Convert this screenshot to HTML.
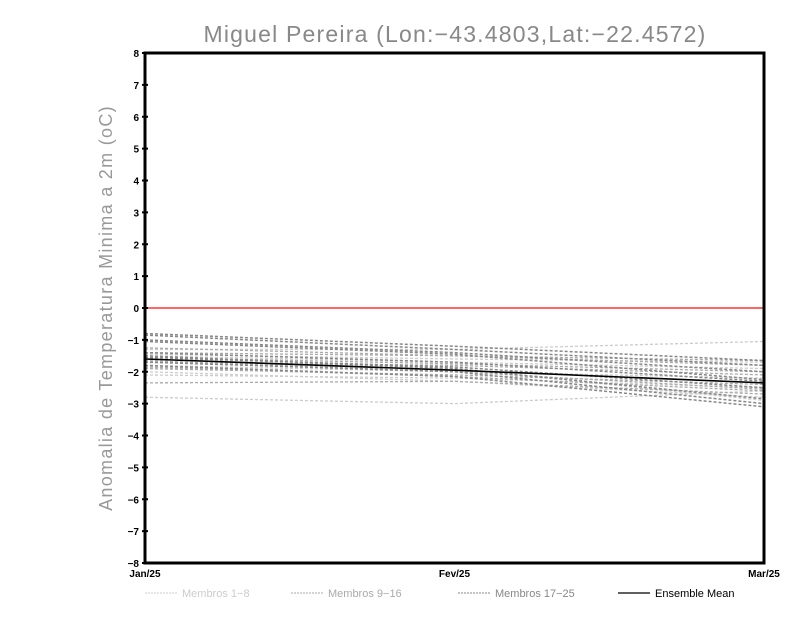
<!DOCTYPE html>
<html><head><meta charset="utf-8"><style>
body{margin:0;background:#fff;width:800px;height:618px;overflow:hidden}
svg{display:block}
text{font-family:"Liberation Sans",sans-serif}
</style></head><body>
<svg id="chart" width="800" height="618">
<text x="455" y="42" text-anchor="middle" font-size="23" letter-spacing="1.2" fill="#888">Miguel Pereira (Lon:−43.4803,Lat:−22.4572)</text>
<text transform="translate(112,308) rotate(-90)" text-anchor="middle" font-size="18" letter-spacing="1.3" fill="#999">Anomalia de Temperatura Minima a 2m (oC)</text>
<g id="series"></g>
<rect x="145" y="53" width="619" height="510" fill="none" stroke="#000" stroke-width="3"/>
<g id="axes"></g>
<g font-size="11">
<line x1="145" y1="593" x2="177" y2="593" stroke="#ccc" stroke-dasharray="2,1"/>
<text x="182" y="597" fill="#ccc">Membros 1−8</text>
<line x1="291" y1="593" x2="323" y2="593" stroke="#aaa" stroke-dasharray="2,1"/>
<text x="328" y="597" fill="#aaa">Membros 9−16</text>
<line x1="458" y1="593" x2="490" y2="593" stroke="#888" stroke-dasharray="2,1"/>
<text x="495" y="597" fill="#888">Membros 17−25</text>
<line x1="618" y1="593" x2="650" y2="593" stroke="#000" stroke-width="1.2"/>
<text x="655" y="597" fill="#000">Ensemble Mean</text>
</g>
</svg>
<script>
const categories=["Jan/25","Fev/25","Mar/25"];
const yTicks=[-8,-7,-6,-5,-4,-3,-2,-1,0,1,2,3,4,5,6,7,8];
const members1to8=[[-1.3,-1.3,-1.05],[-1.5,-1.7,-1.9],[-1.8,-2.0,-2.2],[-2.1,-2.2,-2.5],[-2.8,-3.0,-2.6],[-1.45,-1.6,-1.7],[-1.6,-1.9,-2.9],[-2.0,-2.3,-2.8]];
const members9to16=[[-1.4,-1.5,-1.8],[-1.7,-1.8,-2.1],[-1.9,-2.1,-2.4],[-2.35,-2.3,-2.7],[-1.55,-1.75,-2.0],[-1.65,-2.0,-2.55],[-1.25,-1.5,-1.65],[-1.85,-2.15,-2.6]];
const members17to25=[[-0.8,-1.2,-1.65],[-0.85,-1.3,-1.8],[-1.0,-1.4,-2.0],[-1.05,-1.45,-2.25],[-1.4,-1.7,-2.3],[-1.5,-1.9,-2.85],[-1.7,-2.0,-3.0],[-1.8,-2.15,-3.1],[-1.55,-1.85,-2.5]];
const meanValues=[-1.6,-1.95,-2.35];
const ns="http://www.w3.org/2000/svg";
const X0=145,X1=764,Y0=563,Y1=53;
function xs(i){return X0+(X1-X0)*i/(categories.length-1);}
function ys(v){return Y0-(v+8)/16*(Y0-Y1);}
const g=document.getElementById('series');
const ax=document.getElementById('axes');
function line(vals,color,dash,w,name,parent){
 const p=document.createElementNS(ns,'polyline');
 p.setAttribute('points',vals.map((v,i)=>xs(i)+','+ys(v)).join(' '));
 p.setAttribute('fill','none');p.setAttribute('stroke',color);p.setAttribute('stroke-width',w);
 if(dash)p.setAttribute('stroke-dasharray',dash);
 
 
 parent.appendChild(p);
}
members1to8.forEach((m,i)=>line(m,'#ccc','3,2',1.3,'member-line-'+(i+1),g));
members9to16.forEach((m,i)=>line(m,'#aaa','3,2',1.3,'member-line-'+(i+9),g));
members17to25.forEach((m,i)=>line(m,'#888','3,2',1.5,'member-line-'+(i+17),g));
const z=document.createElementNS(ns,'line');
z.setAttribute('x1',X0);z.setAttribute('x2',X1);z.setAttribute('y1',ys(0));z.setAttribute('y2',ys(0));
z.setAttribute('stroke','#f33');z.setAttribute('stroke-width','1.5');


g.appendChild(z);
line(meanValues,'#000','',1.6,'ensemble-mean-line',g);
yTicks.forEach(v=>{
 const t=document.createElementNS(ns,'line');
 t.setAttribute('x1',X0-3);t.setAttribute('x2',X0+3);t.setAttribute('y1',ys(v));t.setAttribute('y2',ys(v));t.setAttribute('stroke','#000');t.setAttribute('stroke-width','2');
 
 
 ax.appendChild(t);
 const tx=document.createElementNS(ns,'text');
 tx.setAttribute('x',X0-6);tx.setAttribute('y',ys(v)+4);tx.setAttribute('text-anchor','end');tx.setAttribute('font-size','10');tx.setAttribute('font-weight','bold');
 tx.textContent=v<0?'−'+(-v):String(v);
 
 
 ax.appendChild(tx);
});
categories.forEach((c,i)=>{
 const tx=document.createElementNS(ns,'text');
 tx.setAttribute('x',xs(i));tx.setAttribute('y',577);tx.setAttribute('text-anchor','middle');tx.setAttribute('font-size','10');tx.setAttribute('font-weight','bold');
 tx.textContent=c;
 
 
 ax.appendChild(tx);
});
</script>
</body></html>
